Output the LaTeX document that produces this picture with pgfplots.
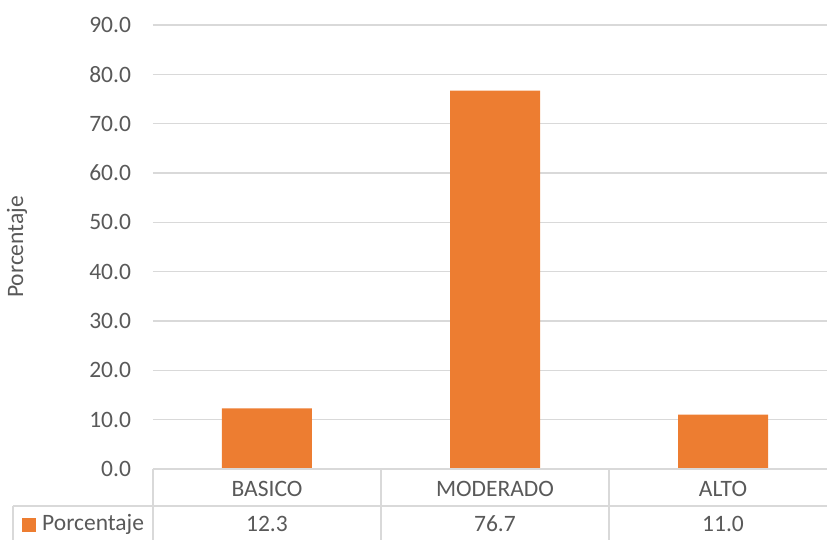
\documentclass[border=0pt]{standalone}
\usepackage{pgfplots}
\pgfplotsset{compat=1.18}
\usepackage{fontspec}
\setmainfont{Carlito}
\definecolor{barc}{HTML}{ED7D31}
\definecolor{txt}{HTML}{595959}
\definecolor{gridc}{HTML}{D9D9D9}
\begin{document}
\begin{tikzpicture}
\fontsize{23.5}{28}\selectfont
\begin{axis}[
  scale only axis,
  width=684pt, height=444pt,
  xmin=-0.5, xmax=2.5, ymin=0, ymax=90,
  ytick={0,10,...,90},
  xtick=\empty,
  ymajorgrids, grid style={gridc, line width=1.2pt},
  axis line style={draw=none},
  major tick length=0pt,
  /pgf/number format/assume math mode=true,
  yticklabel style={txt, font=\fontsize{23.5}{28}\selectfont, /pgf/number format/.cd, fixed, fixed zerofill, precision=1},
  yticklabel shift=14pt,
  clip=false,
]
\addplot[ybar, bar width=90pt, fill=barc, draw=none] coordinates {(0,12.3) (1,76.7) (2,11.0)};
\coordinate (O) at (rel axis cs:0,0);
% data table
\draw[gridc, line width=1.2pt] (axis cs:-0.5,0) -- ([xshift=20pt]axis cs:2.5,0);
\draw[gridc, line width=1.2pt] ([xshift=-140pt,yshift=-37pt]axis cs:-0.5,0) -- ([xshift=20pt,yshift=-37pt]axis cs:2.5,0);
\draw[gridc, line width=1.2pt] ([xshift=-140pt,yshift=-37pt]axis cs:-0.5,0) -- ([xshift=-140pt,yshift=-80pt]axis cs:-0.5,0);
\draw[gridc, line width=1.2pt] (axis cs:-0.5,0) -- ([yshift=-80pt]axis cs:-0.5,0);
\draw[gridc, line width=1.2pt] (axis cs:0.5,0) -- ([yshift=-80pt]axis cs:0.5,0);
\draw[gridc, line width=1.2pt] (axis cs:1.5,0) -- ([yshift=-80pt]axis cs:1.5,0);
\node[txt] at ([yshift=-20pt]axis cs:0,0) {BASICO};
\node[txt] at ([yshift=-20pt]axis cs:1,0) {MODERADO};
\node[txt] at ([yshift=-20pt]axis cs:2,0) {ALTO};
\node[txt] at ([yshift=-55pt]axis cs:0,0) {12.3};
\node[txt] at ([yshift=-55pt]axis cs:1,0) {76.7};
\node[txt] at ([yshift=-55pt]axis cs:2,0) {11.0};
\fill[barc] ([xshift=-131pt,yshift=-49pt]axis cs:-0.5,0) rectangle ([xshift=-117pt,yshift=-63pt]axis cs:-0.5,0);
\node[txt, anchor=west, inner sep=0pt] at ([xshift=-111pt,yshift=-55pt]axis cs:-0.5,0) {Porcentaje};
\node[txt, rotate=90] at ([xshift=-136pt]rel axis cs:0,0.5) {Porcentaje};
\end{axis}
\pgfresetboundingbox
\useasboundingbox ([xshift=-153pt,yshift=-70pt]O) rectangle ([xshift=674pt,yshift=469pt]O);
\end{tikzpicture}
\end{document}
